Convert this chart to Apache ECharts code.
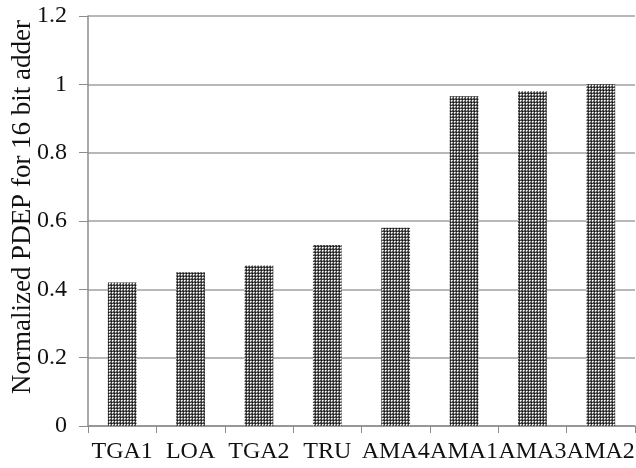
<!DOCTYPE html>
<html>
<head>
<meta charset="utf-8">
<script src="https://cdn.jsdelivr.net/npm/echarts@6/dist/echarts.min.js"></script>
<style>
html,body{margin:0;padding:0;background:#fff;}
#chart{width:636px;height:468px;}
</style>
</head>
<body>
<div id="chart"></div>
<script>
var categories=['TGA1','LOA','TGA2','TRU','AMA4','AMA1','AMA3','AMA2'];
var pdepValues=[0.42,0.45,0.47,0.53,0.58,0.965,0.98,1.0];
var yTicks=[0,0.2,0.4,0.6,0.8,1,1.2];

// dotted fill like the original bar pattern
function makePattern(){
	var c=document.createElement('canvas');
	c.width=3;c.height=3;
	var ctx=c.getContext('2d');
	ctx.fillStyle='#4a4a4a';
	ctx.fillRect(0,0,3,3);
	ctx.fillStyle='#111';
	ctx.fillRect(0,0,1,1);
	ctx.fillStyle='#ffffff';
	ctx.fillRect(1,1,1,1);
	ctx.fillStyle='#bdbdbd';
	ctx.fillRect(2,1,1,1);
	ctx.fillRect(1,2,1,1);
	return c;
}

var chart=echarts.init(document.getElementById('chart'));
var option={
	animation:false,
	grid:{left:88,right:1,top:16,bottom:42,containLabel:false,outerBoundsMode:'none'},
	xAxis:{
		type:'category',
		data:categories,
		axisLine:{lineStyle:{color:'#8c8c8c',width:1.5}},
		axisTick:{show:true,length:7,lineStyle:{color:'#8c8c8c'}},
		axisLabel:{color:'#111',fontFamily:'Liberation Serif',fontSize:24,margin:14,interval:0}
	},
	yAxis:{
		type:'value',
		min:yTicks[0],
		max:yTicks[yTicks.length-1],
		interval:0.2,
		name:'Normalized PDEP for 16 bit adder',
		nameLocation:'middle',
		nameGap:52,
		nameMoveOverlap:false,
		nameTextStyle:{color:'#111',fontFamily:'Liberation Serif',fontSize:27,padding:[0,0,0,28]},
		axisLine:{show:true,lineStyle:{color:'#8c8c8c',width:1.5}},
		axisTick:{show:true,length:9,lineStyle:{color:'#8c8c8c'}},
		axisLabel:{color:'#111',fontFamily:'Liberation Serif',fontSize:24,margin:21,
			formatter:function(v){return String(Math.round(v*10)/10);}},
		splitLine:{lineStyle:{color:'#a0a0a0',width:1.5}}
	},
	series:[{
		type:'bar',
		data:pdepValues,
		barWidth:'42%',
		itemStyle:{color:{image:makePattern(),repeat:'repeat'}}
	}]
};
chart.setOption(option);
</script>
</body>
</html>
